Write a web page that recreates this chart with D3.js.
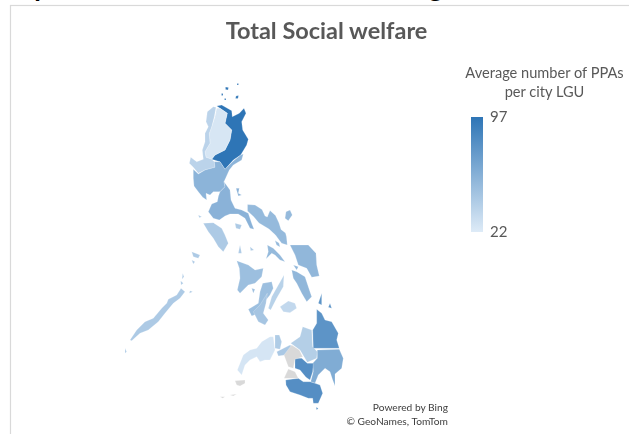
<!DOCTYPE html>
<html>
<head>
<meta charset="utf-8">
<script src="https://cdnjs.cloudflare.com/ajax/libs/d3/7.8.5/d3.min.js"></script>
<style>
    html, body { margin: 0; padding: 0; background: #fff; overflow: hidden; }
    text { font-family: Lato, "Open Sans", sans-serif; }
    .legend-axis text { font-family: Lato, "Open Sans", sans-serif; font-size: 15px; fill: #595959; }
</style>
</head>
<body>
<svg id="chart"></svg>
<script>
const chartTitle = "Total Social welfare";
const legendLines = ["Average number of PPAs", "per city LGU"];
const creditLines = ["Powered by Bing", "\u00A9 GeoNames, TomTom"];
const legendTicks = [22, 97];

const regionNames = ["Cagayan Valley", "CAR", "Ilocos", "Central Luzon", "NCR", "CALABARZON", "Bicol", "MIMAROPA",
    "Western Visayas", "Negros Oriental", "Cebu", "Bohol", "Eastern Visayas", "Zamboanga Peninsula",
    "Northern Mindanao", "Misamis Occidental", "Iligan", "Caraga", "Davao", "SOCCSKSARGEN", "BARMM"];

// read off the shades against the legend, BARMM has no data
const regionValues = [97, 25, 37, 57, 36, 58, 53, 43, 50, 46, 38, 34, 55, 26, 40, 42, 44, 77, 62, 81, null];

// outlines, in map grid units
const regionShapes = [
    [[[96.7,26],[101.7,25],[111.7,30.7],[112.3,36.7],[119.3,33.3],[124,28.3],[126,33.3],[121.7,41.7],[122.7,50],[128.3,59.3],[126.7,65],[120.7,75],[113.3,80],[105,89.3],[100,81.7],[91.7,79.3],[95,75],[105,70],[110,60],[111.7,50],[105,43.3],[107.3,33.3],[100,28.3]],
     [[105.5,7],[108.5,7.5],[108,10],[105.5,9.5]], [[116,16],[118.5,15.5],[118,18.5],[115.5,18.5]], [[117,3.5],[118.5,3.5],[118.5,5],[117,5]], [[101.5,13.5],[103,13.5],[103,15.5],[101.5,15.5]], [[104.5,18.5],[106,18.5],[106,20],[104.5,20]]],
    [[[96.7,28.3],[100,28.3],[107.3,33.3],[105,43.3],[111.7,50],[110,60],[105,70],[95,75],[91.7,79.3],[86,77.3],[85,71.7],[90,63.3],[89.3,53.3],[91.7,46.7],[95,36.7]]],
    [[[87.3,31.7],[93.3,26.7],[96,27.3],[94.3,36.7],[91.7,46.7],[89.3,53.3],[90,63.3],[85,71.7],[86,77.3],[91.7,79.3],[94.3,81.7],[95,87.3],[85,90],[78.3,93.3],[73.3,87.3],[69.3,83.3],[70.7,77.3],[76.7,81.7],[83.3,79.3],[82.3,70],[85,61.7],[85,53.3],[88.3,46.7],[86,41.7]]],
    [[[73.3,89.3],[78.3,94],[85,90],[95,87.3],[94.3,81.7],[100,81.7],[105,89.3],[113.3,81],[120.7,75],[123.3,74],[121.7,80],[113.3,85],[109.3,90],[104,101.7],[105,106.7],[100,111.7],[93.3,111.7],[90,115],[86,113.3],[86.7,120],[82.7,117.3],[78.3,111.7],[74,106],[73.3,98.3]]],
    [[[98.5,116],[100.5,112],[103,113],[100,119]]],
    [[[104,101.7],[110,110],[111,120],[115,128.3],[121.7,130],[128.3,133.3],[131.7,143.3],[134,149.3],[130,148.3],[125,138.3],[118.3,134],[110,134],[105,136],[99.3,140],[93.3,138.3],[88.3,131.7],[91.7,124],[97.3,121.7],[98.3,116.7],[100,111.7],[105,106.7]],
     [[116,108.3],[119.3,108.3],[118.3,113.3],[121.7,115],[118.3,116]]],
    [[[127.5,124.5],[135,125],[142,129.5],[145,136],[147.3,137],[150,130.5],[155.5,135.5],[159,143],[161,149.5],[165.5,153],[166.5,156.7],[167.3,165],[161.7,163.3],[159.5,160.5],[155.5,155],[149,149],[144,146],[139,143],[133.5,136.5],[127.5,131]],
     [[166,131.7],[170,130],[172.3,135],[168.3,140.7],[165,138.3]],
     [[147.3,165],[153.3,168.3],[160,175],[165,181.7],[160,180],[155,175],[151.7,173.3],[146,179],[148.3,171.7]],
     [[155,160.5],[159,163],[160,167],[156.5,165]]],
    [[[10,260],[16.7,250],[25,241.7],[33.3,238.3],[41.7,228.3],[46.7,223.3],[48.3,219.3],[56.7,215],[61,208.3],[65,211.7],[60,218.3],[53.3,223.3],[45,233.3],[38.3,241.7],[28.3,250],[20,253.3],[11.7,260.7]],
     [[71.7,171.7],[80,175],[78.3,178.3],[73.3,176.7]], [[71.7,180],[75,181.7],[73.3,184]], [[62.7,193.3],[64,196.7],[62,199.3]], [[60.7,200.7],[63.3,203.3],[61,205]], [[70,210.7],[72.7,211.7],[69.3,213.3]], [[5,268.3],[6.7,271.7],[5,273.3]],
     [[83.3,143.3],[93.3,142.7],[101.7,148.3],[105,155],[108.3,163.3],[103.3,171.7],[98.3,166.7],[93.3,158.3],[88.3,151.7]],
     [[78.3,135],[81.7,136.7],[79.3,137.7]],
     [[115,143.3],[121.7,145],[120,149.3],[116,148.3]],
     [[120,165],[121.7,173.3],[118.3,173.3]], [[130,166.7],[134,170],[130.7,170.7]]],
    [[[116.7,180.7],[128.3,185],[135,190],[143.3,188.3],[141.7,196.7],[135,203.3],[128.3,205],[120,213.3],[117.3,210],[120,198.3],[119.3,188.3]],
     [[131.7,208.3],[135,209.3],[133.3,213.3]],
     [[142.7,203.3],[151.7,201.7],[153.3,208.3],[150,215],[143.3,223.3],[138.3,233.3],[131.7,236],[128.3,229.3],[138.3,223.3],[140,211.7]]],
    [[[140,225],[147.3,213.3],[146,223.3],[143.3,233.3],[148.3,240],[145,245],[138.3,241.7],[133.3,231.7]]],
    [[[164,195],[163.3,206.7],[156.7,218.3],[150.7,230],[148.3,228.3],[151.7,216.7],[158.3,205]]],
    [[[160,226.7],[168.3,221],[175,223.3],[176.7,228.3],[170,232.7],[163.3,231.7]]],
    [[[170,165],[188.3,165],[196,173.3],[196.7,185],[199.3,196],[191.7,197.3],[186.7,188.3],[178.3,185],[175,175]],
     [[171.7,190],[176.7,191.7],[185,196.7],[188.3,206.7],[191.7,216.7],[186.7,221.7],[181.7,213.3],[176.7,203.3],[173.3,198.3]],
     [[173.3,185],[178.3,186.7],[176.7,190]]],
    [[[117.3,290],[123.3,275],[130,270],[136.7,268.3],[141.7,261.7],[150,256.7],[153.3,256.7],[155,270],[150,280],[145,280],[140,281.7],[136.7,276.7],[130,280],[125,285],[121.7,295]]],
    [[[182.7,246.7],[191.7,250],[192.7,266.7],[197.3,271.7],[196.7,278.3],[187.3,282.3],[180,270],[170.7,263.3],[180,256.7]]],
    [[[155,255],[159.3,255],[161.7,261.7],[160,269.3],[155,268.3]]],
    [[[156.7,271.7],[170,265],[172.7,266.7],[165,275],[158.3,276]]],
    [[[196.7,229.3],[201.7,233.3],[205,240],[211.7,241.7],[218.3,253.3],[216.7,260],[219.3,268.3],[193.3,268.3],[192.7,250],[196.7,243.3]],
     [[201.7,213.3],[201.7,225],[198.3,223.3]], [[210,223.3],[211.7,228.3],[208.3,227.3]]],
    [[[197.3,270],[219.3,269.3],[223.3,278.3],[221.7,288.3],[215,294],[215,306],[212.7,300],[210,291.7],[205,288.3],[198.3,295],[195,303.3],[190.7,301.7],[193.3,291.7],[192.7,283.3],[197.3,278.3]]],
    [[[175,278.3],[181.7,278.3],[187.3,283.3],[193.3,283.3],[192.7,291.7],[190,300],[186,297.3],[180,290],[175,288.3]],
     [[165.7,300],[178.3,298.3],[183.3,301.7],[190,301.7],[195,303.3],[200,305],[202.7,313.3],[198.3,323.3],[193.3,323.3],[192.7,318.3],[188.3,318.3],[180,315],[170,311.7],[166,305]],
     [[196,327.3],[198.3,328.3],[196.7,330]]],
    [[[164,275],[171.7,265],[179.3,270],[182.7,276.7],[175,279.3],[173.3,288.3],[168.3,286.7]],
     [[164,298.3],[168.3,289],[175,291.7],[178.3,298.3]],
     [[115,300.7],[125,300],[125,303.3],[120,306],[116.7,305]],
     [[100,316.7],[105,316.7],[102.7,318.3]], [[110,315],[116.7,314],[113.3,316]]]
];

const width = 629;
const height = 434;
const legendBar = { x: 471, width: 12, top: 117, bottom: 232 };

const svg = d3.select("#chart")
    .attr("width", width)
    .attr("height", height)
    .style("display", "block");

const defs = svg.append("defs");

// the picture is a slightly soft screenshot
defs.append("filter")
    .attr("id", "soft")
    .append("feGaussianBlur")
    .attr("stdDeviation", 0.45);

// Chart area border, runs off the right and bottom of the crop
svg.append("rect")
    .attr("x", 10.5)
    .attr("y", 5.5)
    .attr("width", width)
    .attr("height", height)
    .attr("fill", "#fff")
    .attr("stroke", "#d9d9d9")
    .attr("stroke-width", 1.2);

// Heading of the page above the chart, only its descenders are left in the crop
const cutOff = svg.append("g")
    .attr("font-weight", 700)
    .attr("font-size", 27)
    .attr("fill", "#000")
    .attr("text-anchor", "middle");
cutOff.append("text").attr("x", 42).attr("y", -3.5).text("p");
cutOff.append("text").attr("x", 436).attr("y", -3).text("g");

svg.append("text")
    .attr("x", 326.5)
    .attr("y", 38.5)
    .attr("text-anchor", "middle")
    .attr("font-size", 23.5)
    .attr("font-weight", 700)
    .attr("fill", "#595959")
    .attr("filter", "url(#soft)")
    .text(chartTitle);

const colorScale = d3.scaleLinear()
    .domain(d3.extent(legendTicks))
    .range(["#deebf7", "#2e75b6"]);

const path = d3.geoPath(d3.geoIdentity().translate([120, 80]));

// every ring is its own polygon, no holes
const regions = regionNames.map((name, i) => ({
    type: "Feature",
    properties: { name: name, value: regionValues[i] },
    geometry: { type: "MultiPolygon", coordinates: regionShapes[i].map(ring => [ring.concat([ring[0]])]) }
}));

svg.append("g")
    .attr("filter", "url(#soft)")
    .selectAll("path")
    .data(regions)
    .join("path")
    .attr("d", path)
    .attr("fill", d => d.properties.value === null ? "#d9d9d9" : colorScale(d.properties.value))
    .attr("stroke", "#fff")
    .attr("stroke-opacity", 0.55)
    .attr("stroke-width", 0.4)
    .attr("stroke-linejoin", "round");

// Legend
const gradient = defs.append("linearGradient")
    .attr("id", "legend-gradient")
    .attr("x1", 0).attr("x2", 0)
    .attr("y1", 1).attr("y2", 0);

gradient.selectAll("stop")
    .data(legendTicks)
    .join("stop")
    .attr("offset", (d, i) => i)
    .attr("stop-color", d => colorScale(d));

const legendScale = d3.scaleLinear()
    .domain(d3.extent(legendTicks))
    .range([legendBar.bottom, legendBar.top]);

svg.append("rect")
    .attr("x", legendBar.x)
    .attr("y", legendBar.top)
    .attr("width", legendBar.width)
    .attr("height", legendBar.bottom - legendBar.top)
    .attr("fill", "url(#legend-gradient)");

const legendAxis = svg.append("g")
    .attr("class", "legend-axis")
    .attr("transform", `translate(${legendBar.x + legendBar.width},0)`)
    .call(d3.axisRight(legendScale).tickValues(legendTicks).tickSize(0).tickPadding(7));
legendAxis.select(".domain").remove();
legendAxis.attr("filter", "url(#soft)");

svg.append("g")
    .attr("filter", "url(#soft)")
    .selectAll("text")
    .data(legendLines)
    .join("text")
    .attr("x", 544.5)
    .attr("y", (d, i) => 78 + i * 19)
    .attr("text-anchor", "middle")
    .attr("font-size", 14.6)
    .attr("fill", "#595959")
    .text(d => d);

svg.append("g")
    .attr("filter", "url(#soft)")
    .selectAll("text")
    .data(creditLines)
    .join("text")
    .attr("x", 448)
    .attr("y", (d, i) => 411 + i * 14)
    .attr("text-anchor", "end")
    .attr("font-size", 10.2)
    .attr("fill", "#404040")
    .text(d => d);
</script>
</body>
</html>
